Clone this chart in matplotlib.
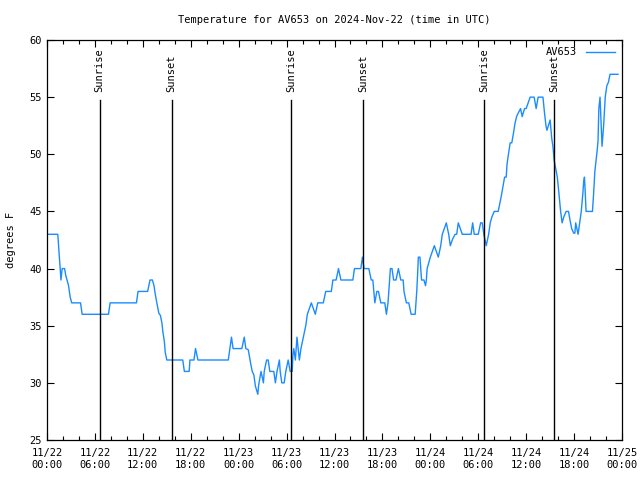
import matplotlib
matplotlib.use("Agg")
import matplotlib.pyplot as plt
from matplotlib.ticker import MultipleLocator

# ---- data (hours since 2024-11-22 00:00 UTC, temperature in F) ----
hours = [0.0, 1.35, 1.45, 1.5, 1.6, 1.7, 1.75, 1.9, 2.2, 2.35, 2.5, 2.7, 2.9, 3.1, 4.2, 4.4,
         7.7, 7.9, 11.2, 11.4, 12.6, 12.9, 13.2, 13.4, 13.5, 13.7, 14.0, 14.2, 14.4, 14.5,
         14.7, 14.8, 15.0, 17.0, 17.2, 17.8, 17.9, 18.4, 18.6, 18.9, 22.7, 22.9, 23.1, 23.3,
         24.4, 24.7, 24.9, 25.2, 25.5, 25.7, 25.9, 26.1, 26.4, 26.5, 26.8, 27.1, 27.2, 27.5,
         27.7, 27.9, 28.4, 28.6, 28.8, 29.1, 29.2, 29.4, 29.7, 29.9, 30.2, 30.45, 30.7, 30.8,
         30.9, 31.1, 31.3, 31.6, 31.8, 32.1, 32.4, 32.6, 33.1, 33.6, 33.9, 34.6, 34.9, 35.6,
         35.8, 36.2, 36.5, 36.8, 38.3, 38.5, 39.3, 39.5, 39.7, 40.3, 40.6, 40.8, 41.0, 41.05,
         41.3, 41.5, 41.8, 42.3, 42.5, 42.7, 43.0, 43.2, 43.4, 43.7, 44.0, 44.3, 44.6, 44.7,
         45.0, 45.3, 45.6, 46.1, 46.3, 46.4, 46.5, 46.7, 46.9, 47.2, 47.4, 47.5, 47.6, 48.0,
         48.5, 49.0, 49.3, 49.5, 50.0, 50.3, 50.5, 50.8, 51.1, 51.3, 51.5, 52.0, 53.1, 53.3,
         53.5, 54.0, 54.3, 54.5, 54.7, 55.0, 55.3, 55.5, 55.7, 56.0, 56.5, 56.7, 56.9, 57.1,
         57.3, 57.5, 57.6, 57.8, 58.0, 58.2, 58.4, 58.6, 58.8, 59.0, 59.3, 59.5, 59.8, 60.0,
         60.3, 60.5, 61.0, 61.25, 61.5, 62.1, 62.3, 62.5, 62.6, 62.9, 63.0, 63.2, 63.35, 63.5,
         63.9, 64.1, 64.3, 64.5, 64.7, 65.0, 65.3, 65.5, 65.7, 65.95, 66.1, 66.2, 66.5, 66.7,
         66.9, 67.1, 67.2, 67.3, 67.4, 67.5, 68.3, 68.45, 68.6, 68.9, 69.0, 69.1, 69.25, 69.5,
         69.7, 69.9, 70.1, 70.3, 70.5, 71.5]
temps = [43, 43, 42, 41.5, 40.5, 39.4, 39, 40, 40, 39.4, 39, 38.5, 37.5, 37, 37, 36,
         36, 37, 37, 38, 38, 39, 39, 38.5, 38, 37.2, 36.1, 35.9, 35.2, 34.5,
         33.6, 32.7, 32, 32, 31, 31, 32, 32, 33, 32, 32, 33, 34, 33,
         33, 34, 33, 32.9, 31.7, 31, 30.7, 29.7, 29, 29.8, 31, 30, 31, 32,
         32, 31, 31, 30, 31, 32, 31, 30, 30, 31, 32, 31, 31, 32.5,
         33, 32, 34, 32, 33, 34, 35, 36, 37, 36, 37, 37, 38, 38,
         39, 39, 40, 39, 39, 40, 40, 41, 40, 40, 39, 39, 37.4, 37,
         38, 38, 37, 37, 36, 37, 40, 40, 39, 39, 40, 39, 39, 38,
         37, 37, 36, 36, 38, 39.4, 41, 41, 39, 39, 38.5, 39, 40, 41,
         42, 41, 42, 43, 44, 43, 42, 42.6, 43, 43, 44, 43, 43, 44,
         43, 43, 44, 44, 43, 42, 43, 44, 44.5, 45, 45, 45.7, 46.4, 47.2,
         48, 48, 49.1, 50.1, 51, 51, 51.8, 52.7, 53.3, 53.6, 54, 53.3, 54, 54,
         54.6, 55, 55, 54, 55, 55, 53.6, 52.4, 52.1, 52.8, 53, 51.4, 50.7, 49.5,
         48, 46.6, 45.1, 44, 44.5, 45, 45, 44.2, 43.5, 43.1, 43.1, 44, 43, 44,
         45, 46.6, 47.6, 48, 46.6, 45, 45, 46.6, 48.5, 50.4, 51.2, 54, 55, 50.7,
         52.5, 55, 56, 56.3, 57, 57]

sunrise_hours = [6.6, 30.6, 54.75]
sunset_hours = [15.6, 39.6, 63.5]

xtick_hours = list(range(0, 73, 6))
xtick_labels = ["11/22\n00:00", "11/22\n06:00", "11/22\n12:00", "11/22\n18:00",
                "11/23\n00:00", "11/23\n06:00", "11/23\n12:00", "11/23\n18:00",
                "11/24\n00:00", "11/24\n06:00", "11/24\n12:00", "11/24\n18:00",
                "11/25\n00:00"]

series_name = "AV653"
title = "Temperature for AV653 on 2024-Nov-22 (time in UTC)"

plt.rcParams['font.family'] = ['DejaVu Sans Mono']
plt.rcParams['font.size'] = 7.5

fig = plt.figure(figsize=(6.4, 4.8), dpi=100)
ax = fig.add_axes([47/640, 40/480, 575/640, 400/480])

color = '#1a8cff'
ax.plot(hours, temps, color=color, lw=1.0, label=series_name)

for h in sunrise_hours:
    ax.plot([h, h], [0, 0.85], color='black', lw=1.0, transform=ax.get_xaxis_transform())
    ax.text(h, 0.87, "Sunrise", rotation=90, ha='center', va='bottom',
            transform=ax.get_xaxis_transform(), fontsize=7.5)
for h in sunset_hours:
    ax.plot([h, h], [0, 0.85], color='black', lw=1.0, transform=ax.get_xaxis_transform())
    ax.text(h, 0.87, "Sunset", rotation=90, ha='center', va='bottom',
            transform=ax.get_xaxis_transform(), fontsize=7.5)

ax.set_xlim(0, 72)
ax.set_ylim(25, 60)
ax.set_xticks(xtick_hours)
ax.set_xticklabels(xtick_labels)
ax.xaxis.set_minor_locator(MultipleLocator(2))
ax.set_yticks(range(25, 61, 5))
ax.tick_params(which='major', direction='in', length=5, top=True, right=True, width=0.8)
ax.tick_params(which='minor', direction='in', length=3, top=True, right=False, width=0.8)
ax.tick_params(axis='x', pad=6)
ax.set_ylabel("degrees F", labelpad=10)
ax.set_title(title, pad=12, fontsize=7.5)
for s in ax.spines.values():
    s.set_linewidth(0.9)

leg = ax.legend(loc='upper right', frameon=False, handlelength=2.8, handletextpad=0.8,
                borderaxespad=0.3, markerfirst=False)

fig.savefig("out.png", dpi=100)
